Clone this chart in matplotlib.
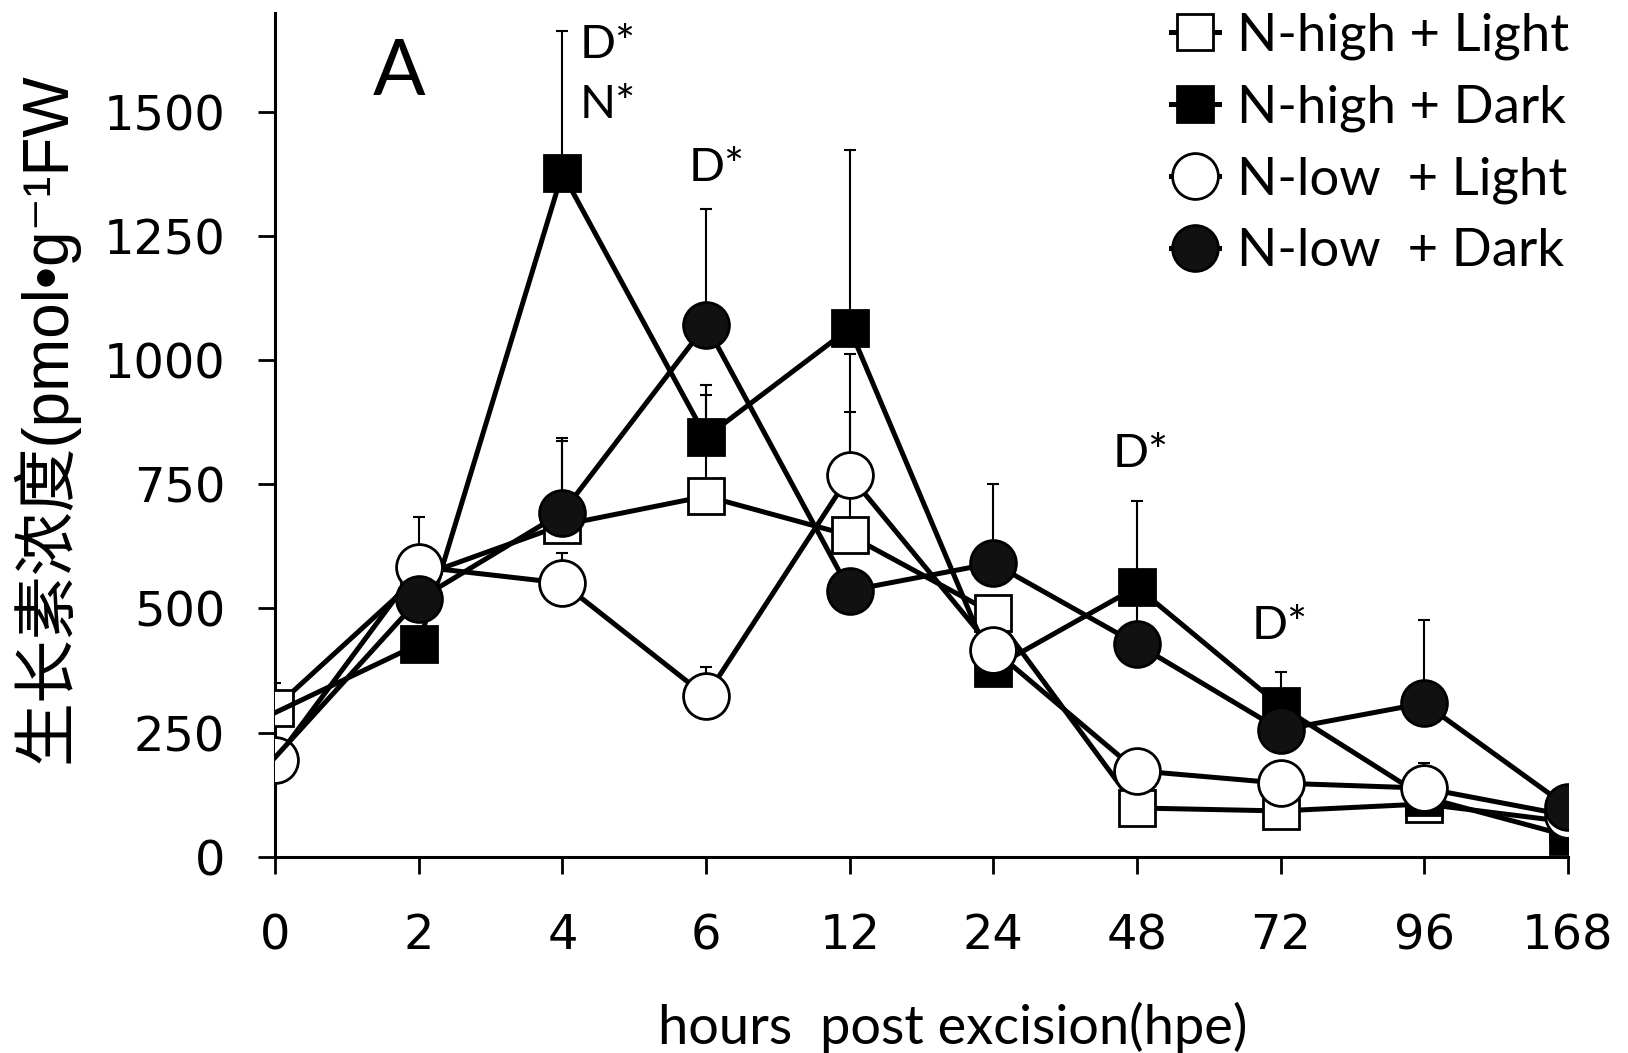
import matplotlib.pyplot as plt
import numpy as np

# sampling times (hours post excision), plotted as evenly spaced categories
hours = ['0', '2', '4', '6', '12', '24', '48', '72', '96', '168']

nhigh_light = [300, 564, 668, 726, 647, 490, 98, 92, 106, 70]
nhigh_dark = [290, 428, 1377, 845, 1064, 380, 543, 303, 120, 42]
nlow_light = [194, 584, 551, 323, 768, 417, 173, 148, 138, 83]
nlow_dark = [200, 518, 693, 1071, 536, 591, 428, 255, 309, 100]

# upper SE only
nhigh_light_err = [50, 0, 170, 203, 248, 0, 0, 0, 0, 0]
nhigh_dark_err = [0, 0, 286, 105, 359, 0, 173, 68, 0, 0]
nlow_light_err = [0, 100, 60, 59, 244, 0, 0, 0, 50, 0]
nlow_dark_err = [0, 0, 150, 233, 0, 160, 120, 0, 167, 40]

labels = ['N-high + Light', 'N-high + Dark', 'N-low  + Light', 'N-low  + Dark']

fig = plt.figure(figsize=(16.28, 10.53), dpi=100)
ax = fig.add_axes([0.169, 0.1865, 0.794, 0.8015])

x = np.arange(len(hours))
# the dark series share the 0 h start point, drawn under the light markers
series = [
    (nhigh_light, nhigh_light_err, 's', 'white', 26, 3, None),
    (nhigh_dark, nhigh_dark_err, 's', 'black', 26, 4, slice(1, None)),
    (nlow_light, nlow_light_err, 'o', 'white', 33, 5, None),
    (nlow_dark, nlow_dark_err, 'o', '#111111', 33, 6, slice(1, None)),
]

for vals, err, mk, fc, ms, z, every in series:
    ax.errorbar(x, vals, yerr=[np.zeros(len(err)), err], fmt='none',
                ecolor='black', elinewidth=1.5, capsize=4, capthick=1.5,
                zorder=1)
for i, (vals, err, mk, fc, ms, z, every) in enumerate(series):
    ax.plot(x, vals, color='black', lw=3.6, marker=mk, markersize=ms,
            markerfacecolor=fc, markeredgecolor='black', markeredgewidth=2,
            markevery=every, label=labels[i], zorder=z)

ax.set_xlim(0, 9)
ax.set_ylim(0, 1700)
ax.set_yticks([0, 250, 500, 750, 1000, 1250, 1500])
ax.set_xticks(x)
ax.set_xticklabels(hours)

for side in ['top', 'right']:
    ax.spines[side].set_visible(False)
for side in ['left', 'bottom']:
    ax.spines[side].set_linewidth(2.2)
ax.tick_params(axis='y', direction='out', length=12, width=2, pad=24,
               labelsize=34.5)
ax.tick_params(axis='x', direction='out', length=12, width=2, pad=28,
               labelsize=34.5)

ax.set_xlabel('hours  post excision(hpe)', family='Lato', fontsize=39,
              labelpad=31)
ax.xaxis.label.set_x(0.524)
ax.set_ylabel('生长素浓度(pmol•g⁻¹FW',
              family=['Liberation Sans', 'DejaVu Sans', 'Noto Sans CJK SC'],
              fontsize=46, labelpad=18)
ax.yaxis.label.set_y(0.52)

ax.text(0.68, 1578, 'A', family='Lato', fontsize=56, va='center', ha='left')
notes = [(2.12, 1634, 'D*'), (2.12, 1513, 'N*'), (2.88, 1388, 'D*'),
         (5.83, 810, 'D*'), (6.80, 465, 'D*')]
for nx, ny, s in notes:
    ax.text(nx, ny, s, family='Lato', fontsize=34, va='center', ha='left')

leg = ax.legend(loc='upper left', bbox_to_anchor=(0.677, 1.025), frameon=False,
                prop={'family': 'Lato', 'size': 38}, handlelength=0.9,
                handletextpad=0.35, labelspacing=0.46, borderaxespad=0)

fig.savefig('out.png', dpi=100)
